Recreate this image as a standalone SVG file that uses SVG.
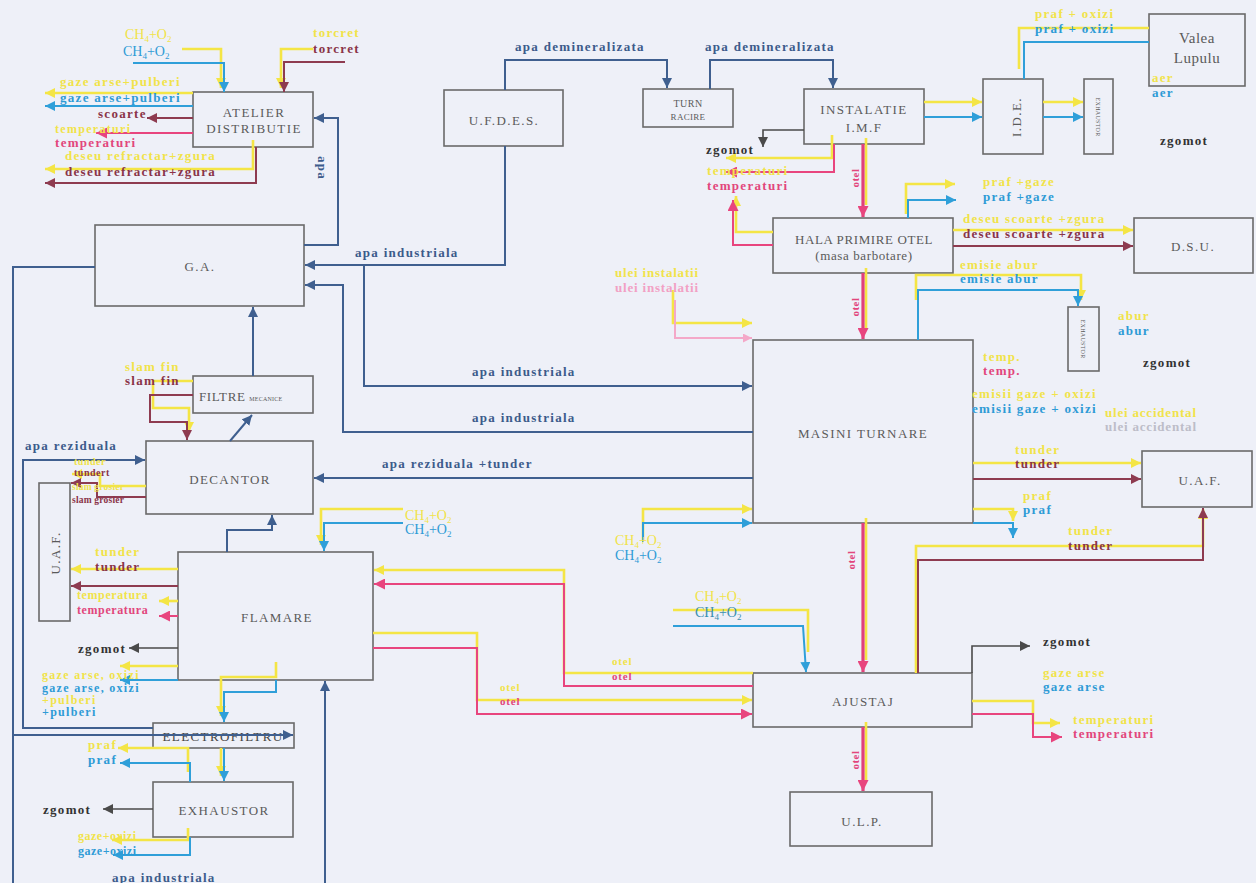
<svg xmlns="http://www.w3.org/2000/svg" width="1256" height="883" viewBox="0 0 1256 883">
<defs>
<style>
.bg{fill:#eef0f8}
.box{fill:none;stroke:#6a6a6a;stroke-width:1.6}
.n{font-family:"Liberation Serif",serif;font-size:13px;fill:#5a5a5a;letter-spacing:1.4px;text-anchor:middle}
.l{font-family:"Liberation Serif",serif;font-weight:bold;font-size:13px;letter-spacing:1.3px}
.c{font-family:"Liberation Serif",serif;font-size:14px}
.s{font-size:9px}
.ty{fill:#f1e34a}.tb{fill:#2e9bd6}.td{fill:#3c5b8b}.tm{fill:#8a3448}.tp{fill:#e2467c}.tg{fill:#333}.tlp{fill:#f2a0c4}.tlg{fill:#bdbdc8}
.k{fill:none;stroke-linejoin:miter}
.y{stroke:#f4e545;stroke-width:2.6}
.b{stroke:#2f9fd9;stroke-width:2}
.d{stroke:#3f5f8f;stroke-width:2}
.m{stroke:#8e3b50;stroke-width:2}
.p{stroke:#e8457e;stroke-width:2}
.pt{stroke:#e0407a;stroke-width:3.2}
.g{stroke:#4a4a4a;stroke-width:1.6}
.lp{stroke:#f4a8c8;stroke-width:2}
</style>
<marker id="aY" viewBox="0 0 10 10" refX="10" refY="5" markerUnits="userSpaceOnUse" markerWidth="10" markerHeight="10" orient="auto"><path d="M0,0L10,5L0,10z" fill="#f4e545"/></marker>
<marker id="aB" viewBox="0 0 10 10" refX="10" refY="5" markerUnits="userSpaceOnUse" markerWidth="10" markerHeight="10" orient="auto"><path d="M0,0L10,5L0,10z" fill="#2f9fd9"/></marker>
<marker id="aD" viewBox="0 0 10 10" refX="10" refY="5" markerUnits="userSpaceOnUse" markerWidth="10" markerHeight="10" orient="auto"><path d="M0,0L10,5L0,10z" fill="#3f5f8f"/></marker>
<marker id="aM" viewBox="0 0 10 10" refX="10" refY="5" markerUnits="userSpaceOnUse" markerWidth="10" markerHeight="10" orient="auto"><path d="M0,0L10,5L0,10z" fill="#8e3b50"/></marker>
<marker id="aP" viewBox="0 0 10 10" refX="10" refY="5" markerUnits="userSpaceOnUse" markerWidth="11" markerHeight="11" orient="auto"><path d="M0,0L10,5L0,10z" fill="#e8457e"/></marker>
<marker id="aG" viewBox="0 0 10 10" refX="10" refY="5" markerUnits="userSpaceOnUse" markerWidth="10" markerHeight="10" orient="auto"><path d="M0,0L10,5L0,10z" fill="#4a4a4a"/></marker>
<marker id="aL" viewBox="0 0 10 10" refX="10" refY="5" markerUnits="userSpaceOnUse" markerWidth="9" markerHeight="9" orient="auto"><path d="M0,0L10,5L0,10z" fill="#f4a8c8"/></marker>
</defs>
<rect class="bg" x="0" y="0" width="1256" height="883"/>

<g id="nodes">
<g id="atelier"><rect class="box" x="193" y="92" width="120" height="55"/><text class="n" x="254" y="117">ATELIER</text><text class="n" x="254" y="133">DISTRIBUTIE</text></g>
<g id="ga"><rect class="box" x="95" y="225" width="209" height="81"/><text class="n" x="200" y="271">G.A.</text></g>
<g id="ufdes"><rect class="box" x="444" y="90" width="119" height="56"/><text class="n" x="504" y="125">U.F.D.E.S.</text></g>
<g id="turn"><rect class="box" x="643" y="89" width="90" height="38"/><text class="n" x="688" y="107" style="font-size:10px;letter-spacing:0.5px">TURN</text><text class="n" x="688" y="120" style="font-size:9px;letter-spacing:0.3px">RACIRE</text></g>
<g id="instalatie"><rect class="box" x="804" y="89" width="120" height="55"/><text class="n" x="864" y="114">INSTALATIE</text><text class="n" x="864" y="132">I.M.F</text></g>
<g id="ide"><rect class="box" x="983" y="79" width="60" height="75"/><text class="n" transform="translate(1021,117) rotate(-90)">I.D.E.</text></g>
<g id="exhaustor1"><rect class="box" x="1084" y="79" width="29" height="75"/><text class="n" transform="translate(1096,117) rotate(90)" style="font-size:6px;letter-spacing:0.3px">EXHAUSTOR</text></g>
<g id="valea"><rect class="box" x="1149" y="14" width="96" height="72"/><text class="n" x="1197" y="43" style="font-size:15px;letter-spacing:0.5px">Valea</text><text class="n" x="1197" y="63" style="font-size:15px;letter-spacing:0.5px">Lupulu</text></g>
<g id="hala"><rect class="box" x="773" y="218" width="180" height="55"/><text class="n" x="864" y="244" style="letter-spacing:0.6px">HALA PRIMIRE OTEL</text><text class="n" x="864" y="260" style="letter-spacing:0.6px">(masa barbotare)</text></g>
<g id="dsu"><rect class="box" x="1134" y="218" width="119" height="55"/><text class="n" x="1193" y="251">D.S.U.</text></g>
<g id="exhaustor2"><rect class="box" x="1068" y="307" width="31" height="64"/><text class="n" transform="translate(1081,339) rotate(90)" style="font-size:6px;letter-spacing:0.3px">EXHAUSTOR</text></g>
<g id="masini"><rect class="box" x="753" y="340" width="220" height="183"/><text class="n" x="863" y="438">MASINI TURNARE</text></g>
<g id="uaf_right"><rect class="box" x="1142" y="451" width="110" height="56"/><text class="n" x="1200" y="485">U.A.F.</text></g>
<g id="filtre"><rect class="box" x="193" y="376" width="120" height="37"/><text class="n" x="199" y="401" style="text-anchor:start;letter-spacing:0.6px">FILTRE <tspan style="font-size:6px;letter-spacing:0.2px">MECANICE</tspan></text></g>
<g id="decantor"><rect class="box" x="146" y="441" width="167" height="73"/><text class="n" x="230" y="484">DECANTOR</text></g>
<g id="uaf_left"><rect class="box" x="39" y="483" width="31" height="138"/><text class="n" transform="translate(60,553) rotate(-90)">U.A.F.</text></g>
<g id="flamare"><rect class="box" x="178" y="552" width="195" height="128"/><text class="n" x="277" y="622">FLAMARE</text></g>
<g id="electrofiltru"><rect class="box" x="153" y="723" width="141" height="25"/><text class="n" x="223" y="741" style="fill:#444">ELECTROFILTRU</text></g>
<g id="exhaustor3"><rect class="box" x="153" y="782" width="140" height="55"/><text class="n" x="224" y="815">EXHAUSTOR</text></g>
<g id="ajustaj"><rect class="box" x="753" y="673" width="219" height="54"/><text class="n" x="863" y="706">AJUSTAJ</text></g>
<g id="ulp"><rect class="box" x="790" y="792" width="142" height="54"/><text class="n" x="862" y="826">U.L.P.</text></g>
</g>

<g id="connectors" class="k">
<path class="k y" d="M182,49H221V88" marker-end="url(#aY)"/>
<path class="k b" d="M133,63H224V92" marker-end="url(#aB)"/>
<path class="k y" d="M313,49H281V88" marker-end="url(#aY)"/>
<path class="k m" d="M345,62H284V92" marker-end="url(#aM)"/>
<path class="k y" d="M193,93H45" marker-end="url(#aY)"/>
<path class="k b" d="M193,106H45" marker-end="url(#aB)"/>
<path class="k m" d="M193,118H147" marker-end="url(#aM)"/>
<path class="k p" d="M193,133H96" marker-end="url(#aP)"/>
<path class="k y" d="M253,140V169H45" marker-end="url(#aY)"/>
<path class="k m" d="M256,147V183H45" marker-end="url(#aM)"/>
<path class="k d" d="M304,245H338V118H314" marker-end="url(#aD)"/>
<path class="k d" d="M505,146V265H305" marker-end="url(#aD)"/>
<path class="k d" d="M364,265V386H752" marker-end="url(#aD)"/>
<path class="k d" d="M753,432H343V285H305" marker-end="url(#aD)"/>
<path class="k d" d="M253,376V307" marker-end="url(#aD)"/>
<path class="k d" d="M95,267H13V883"/>
<path class="k d" d="M13,735H293" marker-end="url(#aD)"/>
<path class="k d" d="M153,728H23V460H145" marker-end="url(#aD)"/>
<path class="k d" d="M753,478H314" marker-end="url(#aD)"/>
<path class="k d" d="M230,441L252,415" marker-end="url(#aD)"/>
<path class="k d" d="M227,552V530H272V515" marker-end="url(#aD)"/>
<path class="k d" d="M325,883V681" marker-end="url(#aD)"/>
<path class="k d" d="M505,90V60H667V88" marker-end="url(#aD)"/>
<path class="k d" d="M710,89V60H833V88" marker-end="url(#aD)"/>
<path class="k y" d="M193,381H153V408H189V432" marker-end="url(#aY)"/>
<path class="k m" d="M193,395H150V422H187V440" marker-end="url(#aM)"/>
<path class="k y" d="M146,486H100V474H72" marker-end="url(#aY)"/>
<path class="k m" d="M146,497H97V483H71" marker-end="url(#aM)"/>
<path class="k y" d="M403,509H321V545" marker-end="url(#aY)"/>
<path class="k b" d="M403,523H324V551" marker-end="url(#aB)"/>
<path class="k y" d="M178,569H71" marker-end="url(#aY)"/>
<path class="k m" d="M178,586H71" marker-end="url(#aM)"/>
<path class="k y" d="M178,601H159" marker-end="url(#aY)"/>
<path class="k p" d="M178,616H159" marker-end="url(#aP)"/>
<path class="k g" d="M178,648H129" marker-end="url(#aG)"/>
<path class="k y" d="M178,666H120" marker-end="url(#aY)"/>
<path class="k b" d="M178,680H120" marker-end="url(#aB)"/>
<path class="k y" d="M276,662V677H221V716" marker-end="url(#aY)"/>
<path class="k b" d="M276,680V692H224V722" marker-end="url(#aB)"/>
<path class="k y" d="M221,748V776" marker-end="url(#aY)"/>
<path class="k b" d="M224,748V781" marker-end="url(#aB)"/>
<path class="k y" d="M188,772V748H118" marker-end="url(#aY)"/>
<path class="k b" d="M190,782V763H120" marker-end="url(#aB)"/>
<path class="k g" d="M153,809H103" marker-end="url(#aG)"/>
<path class="k y" d="M188,828V840H112" marker-end="url(#aY)"/>
<path class="k b" d="M190,837V855H113" marker-end="url(#aB)"/>
<path class="k g" d="M804,130H763V147" marker-end="url(#aG)"/>
<path class="k y" d="M832,135V158H726" marker-end="url(#aY)"/>
<path class="k p" d="M834,144V172H726" marker-end="url(#aP)"/>
<path class="k y" d="M773,232H736V196" marker-end="url(#aY)"/>
<path class="k p" d="M773,245H733V200" marker-end="url(#aP)"/>
<path class="k y" d="M924,102H982" marker-end="url(#aY)"/>
<path class="k b" d="M924,117H982" marker-end="url(#aB)"/>
<path class="k y" d="M1043,102H1083" marker-end="url(#aY)"/>
<path class="k b" d="M1043,117H1083" marker-end="url(#aB)"/>
<path class="k y" d="M1019,69V28H1149"/>
<path class="k b" d="M1024,79V42H1149"/>
<path class="k y" d="M866,138V205"/>
<path class="k pt" d="M863,144V217" marker-end="url(#aP)"/>
<path class="k y" d="M866,268V330"/>
<path class="k pt" d="M863,273V339" marker-end="url(#aP)"/>
<path class="k y" d="M866,518V660"/>
<path class="k pt" d="M863,523V672" marker-end="url(#aP)"/>
<path class="k y" d="M866,722V780"/>
<path class="k pt" d="M863,727V791" marker-end="url(#aP)"/>
<path class="k y" d="M906,214V184H955" marker-end="url(#aY)"/>
<path class="k b" d="M908,218V200H956" marker-end="url(#aB)"/>
<path class="k y" d="M953,230H1133" marker-end="url(#aY)"/>
<path class="k m" d="M953,246H1133" marker-end="url(#aM)"/>
<path class="k y" d="M916,300V275H1081V300" marker-end="url(#aY)"/>
<path class="k b" d="M918,340V290H1078V306" marker-end="url(#aB)"/>
<path class="k y" d="M673,290V323H752" marker-end="url(#aY)"/>
<path class="k lp" d="M675,300V338H752" marker-end="url(#aL)"/>
<path class="k y" d="M643,540V509H752" marker-end="url(#aY)"/>
<path class="k b" d="M643,542V523H752" marker-end="url(#aB)"/>
<path class="k y" d="M973,463H1141" marker-end="url(#aY)"/>
<path class="k m" d="M973,479H1141" marker-end="url(#aM)"/>
<path class="k y" d="M973,509H1013V521" marker-end="url(#aY)"/>
<path class="k b" d="M973,523H1013V538" marker-end="url(#aB)"/>
<path class="k y" d="M916,673V546H1203V509" marker-end="url(#aY)"/>
<path class="k m" d="M918,673V560H1203V508" marker-end="url(#aM)"/>
<path class="k y" d="M753,673H564V570H374" marker-end="url(#aY)"/>
<path class="k p" d="M753,686H564V584H374" marker-end="url(#aP)"/>
<path class="k y" d="M373,633H477V700H752" marker-end="url(#aY)"/>
<path class="k p" d="M373,648H477V714H752" marker-end="url(#aP)"/>
<path class="k y" d="M673,610H808V652"/>
<path class="k b" d="M673,626H803L806,672" marker-end="url(#aB)"/>
<path class="k g" d="M972,673V646H1030" marker-end="url(#aG)"/>
<path class="k y" d="M972,701H1033V723H1060" marker-end="url(#aY)"/>
<path class="k p" d="M972,714H1033V737H1062" marker-end="url(#aP)"/>
</g>

<g id="labels">
<text class="c ty" x="125" y="39">CH<tspan class="s" dy="3">4</tspan><tspan dy="-3">+O</tspan><tspan class="s" dy="3">2</tspan></text>
<text class="c tb" x="123" y="56">CH<tspan class="s" dy="3">4</tspan><tspan dy="-3">+O</tspan><tspan class="s" dy="3">2</tspan></text>
<text class="l ty" x="313" y="37">torcret</text>
<text class="l tm" x="313" y="53">torcret</text>
<text class="l ty" x="60" y="86">gaze arse+pulberi</text>
<text class="l tb" x="60" y="102">gaze arse+pulberi</text>
<text class="l tm" x="98" y="118">scoarte</text>
<text class="l ty" x="55" y="133" style="font-size:12px">temperaturi</text>
<text class="l tp" x="55" y="147">temperaturi</text>
<text class="l ty" x="65" y="160">deseu refractar+zgura</text>
<text class="l tm" x="65" y="176">deseu refractar+zgura</text>
<text class="l td" transform="translate(318,168) rotate(90)" text-anchor="middle">apa</text>
<text class="l td" x="515" y="51">apa demineralizata</text>
<text class="l td" x="705" y="51">apa demineralizata</text>
<text class="l td" x="355" y="257">apa industriala</text>
<text class="l td" x="472" y="376">apa industriala</text>
<text class="l td" x="472" y="422">apa industriala</text>
<text class="l td" x="382" y="468">apa reziduala +tunder</text>
<text class="l td" x="25" y="450">apa reziduala</text>
<text class="l td" x="112" y="882">apa industriala</text>
<text class="l ty" x="125" y="371">slam fin</text>
<text class="l tm" x="125" y="385">slam fin</text>
<text class="l ty" x="74" y="465" style="font-size:10px;letter-spacing:0.5px">tunder</text>
<text class="l tm" x="74" y="476" style="font-size:10px;letter-spacing:0.5px">tundert</text>
<text class="l ty" x="72" y="490" style="font-size:9.5px;letter-spacing:0.2px">slam grosier</text>
<text class="l tm" x="72" y="503" style="font-size:9.5px;letter-spacing:0.2px">slam grosier</text>
<text class="c ty" x="405" y="520">CH<tspan class="s" dy="3">4</tspan><tspan dy="-3">+O</tspan><tspan class="s" dy="3">2</tspan></text>
<text class="c tb" x="405" y="534">CH<tspan class="s" dy="3">4</tspan><tspan dy="-3">+O</tspan><tspan class="s" dy="3">2</tspan></text>
<text class="l ty" x="95" y="556">tunder</text>
<text class="l tm" x="95" y="571">tunder</text>
<text class="l ty" x="77" y="599" style="font-size:12px;letter-spacing:0.6px">temperatura</text>
<text class="l tp" x="77" y="614" style="font-size:12px;letter-spacing:0.6px">temperatura</text>
<text class="l tg" x="78" y="653">zgomot</text>
<text class="l ty" x="42" y="679" style="font-size:12px">gaze arse, oxizi</text>
<text class="l tb" x="42" y="692" style="font-size:12px">gaze arse, oxizi</text>
<text class="l ty" x="42" y="704" style="font-size:12px">+pulberi</text>
<text class="l tb" x="42" y="716" style="font-size:12px">+pulberi</text>
<text class="l ty" x="88" y="749">praf</text>
<text class="l tb" x="88" y="764">praf</text>
<text class="l tg" x="43" y="814">zgomot</text>
<text class="l ty" x="78" y="840" style="font-size:12px;letter-spacing:0.5px">gaze+oxizi</text>
<text class="l tb" x="78" y="855" style="font-size:12px;letter-spacing:0.5px">gaze+oxizi</text>
<text class="l tg" x="706" y="154">zgomot</text>
<text class="l ty" x="707" y="175">temperaturi</text>
<text class="l tp" x="707" y="190">temperaturi</text>
<text class="l tp" transform="translate(859,178) rotate(-90)" text-anchor="middle" style="font-size:11px;letter-spacing:0.5px">otel</text>
<text class="l tp" transform="translate(859,307) rotate(-90)" text-anchor="middle" style="font-size:11px;letter-spacing:0.5px">otel</text>
<text class="l tp" transform="translate(855,560) rotate(-90)" text-anchor="middle" style="font-size:11px;letter-spacing:0.5px">otel</text>
<text class="l tp" transform="translate(859,760) rotate(-90)" text-anchor="middle" style="font-size:11px;letter-spacing:0.5px">otel</text>
<text class="l ty" x="1035" y="18">praf + oxizi</text>
<text class="l tb" x="1035" y="33">praf + oxizi</text>
<text class="l ty" x="1152" y="82">aer</text>
<text class="l tb" x="1152" y="97">aer</text>
<text class="l tg" x="1160" y="145">zgomot</text>
<text class="l ty" x="983" y="186">praf +gaze</text>
<text class="l tb" x="983" y="201">praf +gaze</text>
<text class="l ty" x="963" y="223">deseu scoarte +zgura</text>
<text class="l tm" x="963" y="238">deseu scoarte +zgura</text>
<text class="l ty" x="960" y="269">emisie abur</text>
<text class="l tb" x="960" y="283">emisie abur</text>
<text class="l ty" x="1118" y="320">abur</text>
<text class="l tb" x="1118" y="335">abur</text>
<text class="l tg" x="1143" y="367">zgomot</text>
<text class="l ty" x="615" y="277" style="letter-spacing:0.8px">ulei instalatii</text>
<text class="l tlp" x="615" y="292" style="letter-spacing:0.8px">ulei instalatii</text>
<text class="c ty" x="615" y="545">CH<tspan class="s" dy="3">4</tspan><tspan dy="-3">+O</tspan><tspan class="s" dy="3">2</tspan></text>
<text class="c tb" x="615" y="560">CH<tspan class="s" dy="3">4</tspan><tspan dy="-3">+O</tspan><tspan class="s" dy="3">2</tspan></text>
<text class="l ty" x="983" y="361">temp.</text>
<text class="l tp" x="983" y="375">temp.</text>
<text class="l ty" x="972" y="398">emisii gaze + oxizi</text>
<text class="l tb" x="972" y="413">emisii gaze + oxizi</text>
<text class="l ty" x="1105" y="417" style="letter-spacing:0.8px">ulei accidental</text>
<text class="l tlg" x="1105" y="431" style="letter-spacing:0.8px">ulei accidental</text>
<text class="l ty" x="1015" y="454">tunder</text>
<text class="l tm" x="1015" y="468">tunder</text>
<text class="l ty" x="1023" y="500">praf</text>
<text class="l tb" x="1023" y="514">praf</text>
<text class="l ty" x="1068" y="535">tunder</text>
<text class="l tm" x="1068" y="550">tunder</text>
<text class="l ty" x="612" y="665" style="font-size:11px;letter-spacing:0.8px">otel</text>
<text class="l tp" x="612" y="680" style="font-size:11px;letter-spacing:0.8px">otel</text>
<text class="l ty" x="500" y="691" style="font-size:11px;letter-spacing:0.8px">otel</text>
<text class="l tp" x="500" y="705" style="font-size:11px;letter-spacing:0.8px">otel</text>
<text class="c ty" x="695" y="601">CH<tspan class="s" dy="3">4</tspan><tspan dy="-3">+O</tspan><tspan class="s" dy="3">2</tspan></text>
<text class="c tb" x="695" y="617" style="fill:#3a8fb0">CH<tspan class="s" dy="3">4</tspan><tspan dy="-3">+O</tspan><tspan class="s" dy="3">2</tspan></text>
<text class="l tg" x="1043" y="646">zgomot</text>
<text class="l ty" x="1043" y="677">gaze arse</text>
<text class="l tb" x="1043" y="691">gaze arse</text>
<text class="l ty" x="1073" y="724">temperaturi</text>
<text class="l tp" x="1073" y="738">temperaturi</text>
</g>
</svg>
